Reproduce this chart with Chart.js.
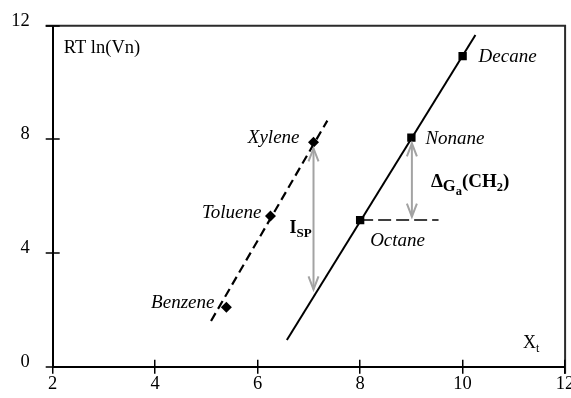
<!DOCTYPE html>
<html>
<head>
<meta charset="utf-8">
<script src="https://cdn.jsdelivr.net/npm/chart.js@4"></script>
<style>
  html, body { margin: 0; padding: 0; background: #fff; }
  canvas { display: block; }
</style>
</head>
<body>
<canvas id="c" width="571" height="398"></canvas>
<script>
// Retention data: aromatics and n-alkanes
const aromaticNames = ['Benzene', 'Toluene', 'Xylene'];
const aromaticX = [5.39, 6.25, 7.09];
const aromaticY = [2.09, 5.30, 7.90];

const alkaneNames = ['Octane', 'Nonane', 'Decane'];
const alkaneX = [8, 9, 10];
const alkaneY = [5.16, 8.06, 10.93];

// Straight lines through each family
const aromaticLineX = [5.09, 7.36];
const aromaticLineY = [1.61, 8.66];
const alkaneLineX = [6.57, 10.25];
const alkaneLineY = [0.94, 11.67];

// Horizontal reference at the octane level
const octaneRefX = [8, 9.53];
const octaneRefY = [5.16, 5.16];

// Double arrows: specific interaction and methylene increment
const ispArrowX = [7.09, 7.09];
const ispArrowY = [7.68, 2.72];
const dgArrowX = [9.01, 9.01];
const dgArrowY = [7.86, 5.28];

const xTicks = [2, 4, 6, 8, 10, 12];
const yTicks = [0, 4, 8, 12];

const pts = (xs, ys) => xs.map((x, i) => ({ x, y: ys[i] }));
const SERIF = '"Liberation Serif", "Times New Roman", serif';

function drawArrow(ctx, x, y1, y2) {
  const head = 13, half = 5;
  ctx.save();
  ctx.strokeStyle = '#a3a3a3';
  ctx.lineWidth = 2;
  ctx.beginPath();
  ctx.moveTo(x, y1);
  ctx.lineTo(x, y2);
  ctx.stroke();
  const dir = y2 > y1 ? 1 : -1;
  ctx.beginPath();
  ctx.moveTo(x - half, y1 + dir * head);
  ctx.lineTo(x, y1);
  ctx.lineTo(x + half, y1 + dir * head);
  ctx.moveTo(x - half, y2 - dir * head);
  ctx.lineTo(x, y2);
  ctx.lineTo(x + half, y2 - dir * head);
  ctx.stroke();
  ctx.restore();
}

// Draw a run of text pieces: [text, fontSize, bold, dy]
function drawRuns(ctx, x, y, runs) {
  let cx = x;
  runs.forEach(([t, size, bold, dy]) => {
    ctx.font = (bold ? 'bold ' : '') + size + 'px ' + SERIF;
    ctx.fillText(t, cx, y + dy);
    cx += ctx.measureText(t).width;
  });
}

const decorations = {
  id: 'decorations',
  afterDraw(chart) {
    const { ctx, chartArea: a, scales: { x, y } } = chart;
    ctx.save();
    // frame top and right
    ctx.strokeStyle = '#2b2b2b';
    ctx.lineWidth = 2;
    ctx.beginPath();
    ctx.moveTo(a.left - 7, a.top);
    ctx.lineTo(a.right, a.top);
    ctx.lineTo(a.right, a.bottom + 7);
    ctx.stroke();
    // tick marks crossing the axes
    ctx.strokeStyle = '#000';
    ctx.lineWidth = 1.5;
    ctx.beginPath();
    xTicks.forEach(v => {
      const px = Math.round(x.getPixelForValue(v)) - 0.25;
      ctx.moveTo(px, a.bottom - 7);
      ctx.lineTo(px, a.bottom + 7);
    });
    yTicks.forEach(v => {
      const py = Math.round(y.getPixelForValue(v));
      ctx.moveTo(a.left - 7, py);
      ctx.lineTo(a.left + 7, py);
    });
    ctx.stroke();

    // arrows
    drawArrow(ctx, x.getPixelForValue(ispArrowX[0]), y.getPixelForValue(ispArrowY[0]), y.getPixelForValue(ispArrowY[1]));
    drawArrow(ctx, x.getPixelForValue(dgArrowX[0]), y.getPixelForValue(dgArrowY[0]), y.getPixelForValue(dgArrowY[1]));

    // compound names
    ctx.fillStyle = '#000';
    ctx.textBaseline = 'middle';
    ctx.font = 'italic 19px ' + SERIF;
    const place = (name, vx, vy, dx, dy, align) => {
      ctx.textAlign = align;
      ctx.fillText(name, x.getPixelForValue(vx) + dx, y.getPixelForValue(vy) + dy);
    };
    place(aromaticNames[0], aromaticX[0], aromaticY[0], -12, -4, 'right');
    place(aromaticNames[1], aromaticX[1], aromaticY[1], -9, -3, 'right');
    place(aromaticNames[2], aromaticX[2], aromaticY[2], -14, -4, 'right');
    place(alkaneNames[0], alkaneX[0], alkaneY[0], 10, 21, 'left');
    place(alkaneNames[1], alkaneX[1], alkaneY[1], 14, 1, 'left');
    place(alkaneNames[2], alkaneX[2], alkaneY[2], 16, 1, 'left');

    // axis captions
    ctx.textAlign = 'left';
    ctx.textBaseline = 'alphabetic';
    drawRuns(ctx, a.left + 11, a.top + 27, [['RT ln(Vn)', 18.5, false, 0]]);
    drawRuns(ctx, a.right - 42, a.bottom - 19, [['X', 18, false, 0], ['t', 12, false, 4]]);

    // interaction labels
    const ix = x.getPixelForValue(ispArrowX[0]);
    drawRuns(ctx, ix - 24, y.getPixelForValue(4.95) + 7, [['I', 18, true, 0], ['SP', 13, true, 4]]);
    const gx = x.getPixelForValue(dgArrowX[0]);
    drawRuns(ctx, gx + 19, y.getPixelForValue(6.55) + 6, [
      ['\u0394', 19, true, 0], ['G', 16.5, true, 4], ['a', 12.5, true, 8],
      ['(CH', 19, true, 0], ['2', 12.5, true, 4], [')', 19, true, 0]
    ]);
    ctx.restore();
  }
};

new Chart(document.getElementById('c'), {
  type: 'scatter',
  data: {
    datasets: [
      {
        data: pts(aromaticLineX, aromaticLineY),
        showLine: true, borderColor: '#000', borderWidth: 2.2, borderDash: [9, 5],
        pointRadius: 0
      },
      {
        data: pts(alkaneLineX, alkaneLineY),
        showLine: true, borderColor: '#000', borderWidth: 2,
        pointRadius: 0
      },
      {
        data: pts(octaneRefX, octaneRefY),
        showLine: true, borderColor: '#000', borderWidth: 1.5, borderDash: [13, 5],
        pointRadius: 0
      },
      {
        data: pts(aromaticX, aromaticY),
        pointStyle: 'rectRot', pointRadius: 5.5,
        backgroundColor: '#000', borderColor: '#000', borderWidth: 0
      },
      {
        data: pts(alkaneX, alkaneY),
        pointStyle: 'rect', pointRadius: 5.9,
        backgroundColor: '#000', borderColor: '#000', borderWidth: 0
      }
    ]
  },
  options: {
    responsive: false,
    animation: false,
    devicePixelRatio: 1,
    layout: { padding: { top: 25.7, right: 5.3, left: 0, bottom: 0 } },
    plugins: { legend: { display: false }, tooltip: { enabled: false } },
    scales: {
      x: {
        type: 'linear', min: 2, max: 12,
        afterBuildTicks: s => { s.ticks = xTicks.map(v => ({ value: v })); },
        afterFit: s => { s.height = 31.3; s.paddingLeft = 0; s.paddingRight = 0; },
        grid: { display: false, drawTicks: false },
        border: { display: true, color: '#000', width: 2 },
        ticks: { color: '#000', font: { family: SERIF, size: 18.5 }, padding: 6, maxRotation: 0 }
      },
      y: {
        type: 'linear', min: 0, max: 12,
        afterBuildTicks: s => { s.ticks = yTicks.map(v => ({ value: v })); },
        afterFit: s => { s.width = 52.7; s.paddingTop = 0; s.paddingBottom = 0; },
        grid: { display: false, drawTicks: false },
        border: { display: true, color: '#000', width: 2 },
        ticks: { color: '#000', font: { family: SERIF, size: 18.5 }, padding: 23, labelOffset: -5 }
      }
    }
  },
  plugins: [decorations]
});
</script>
</body>
</html>
